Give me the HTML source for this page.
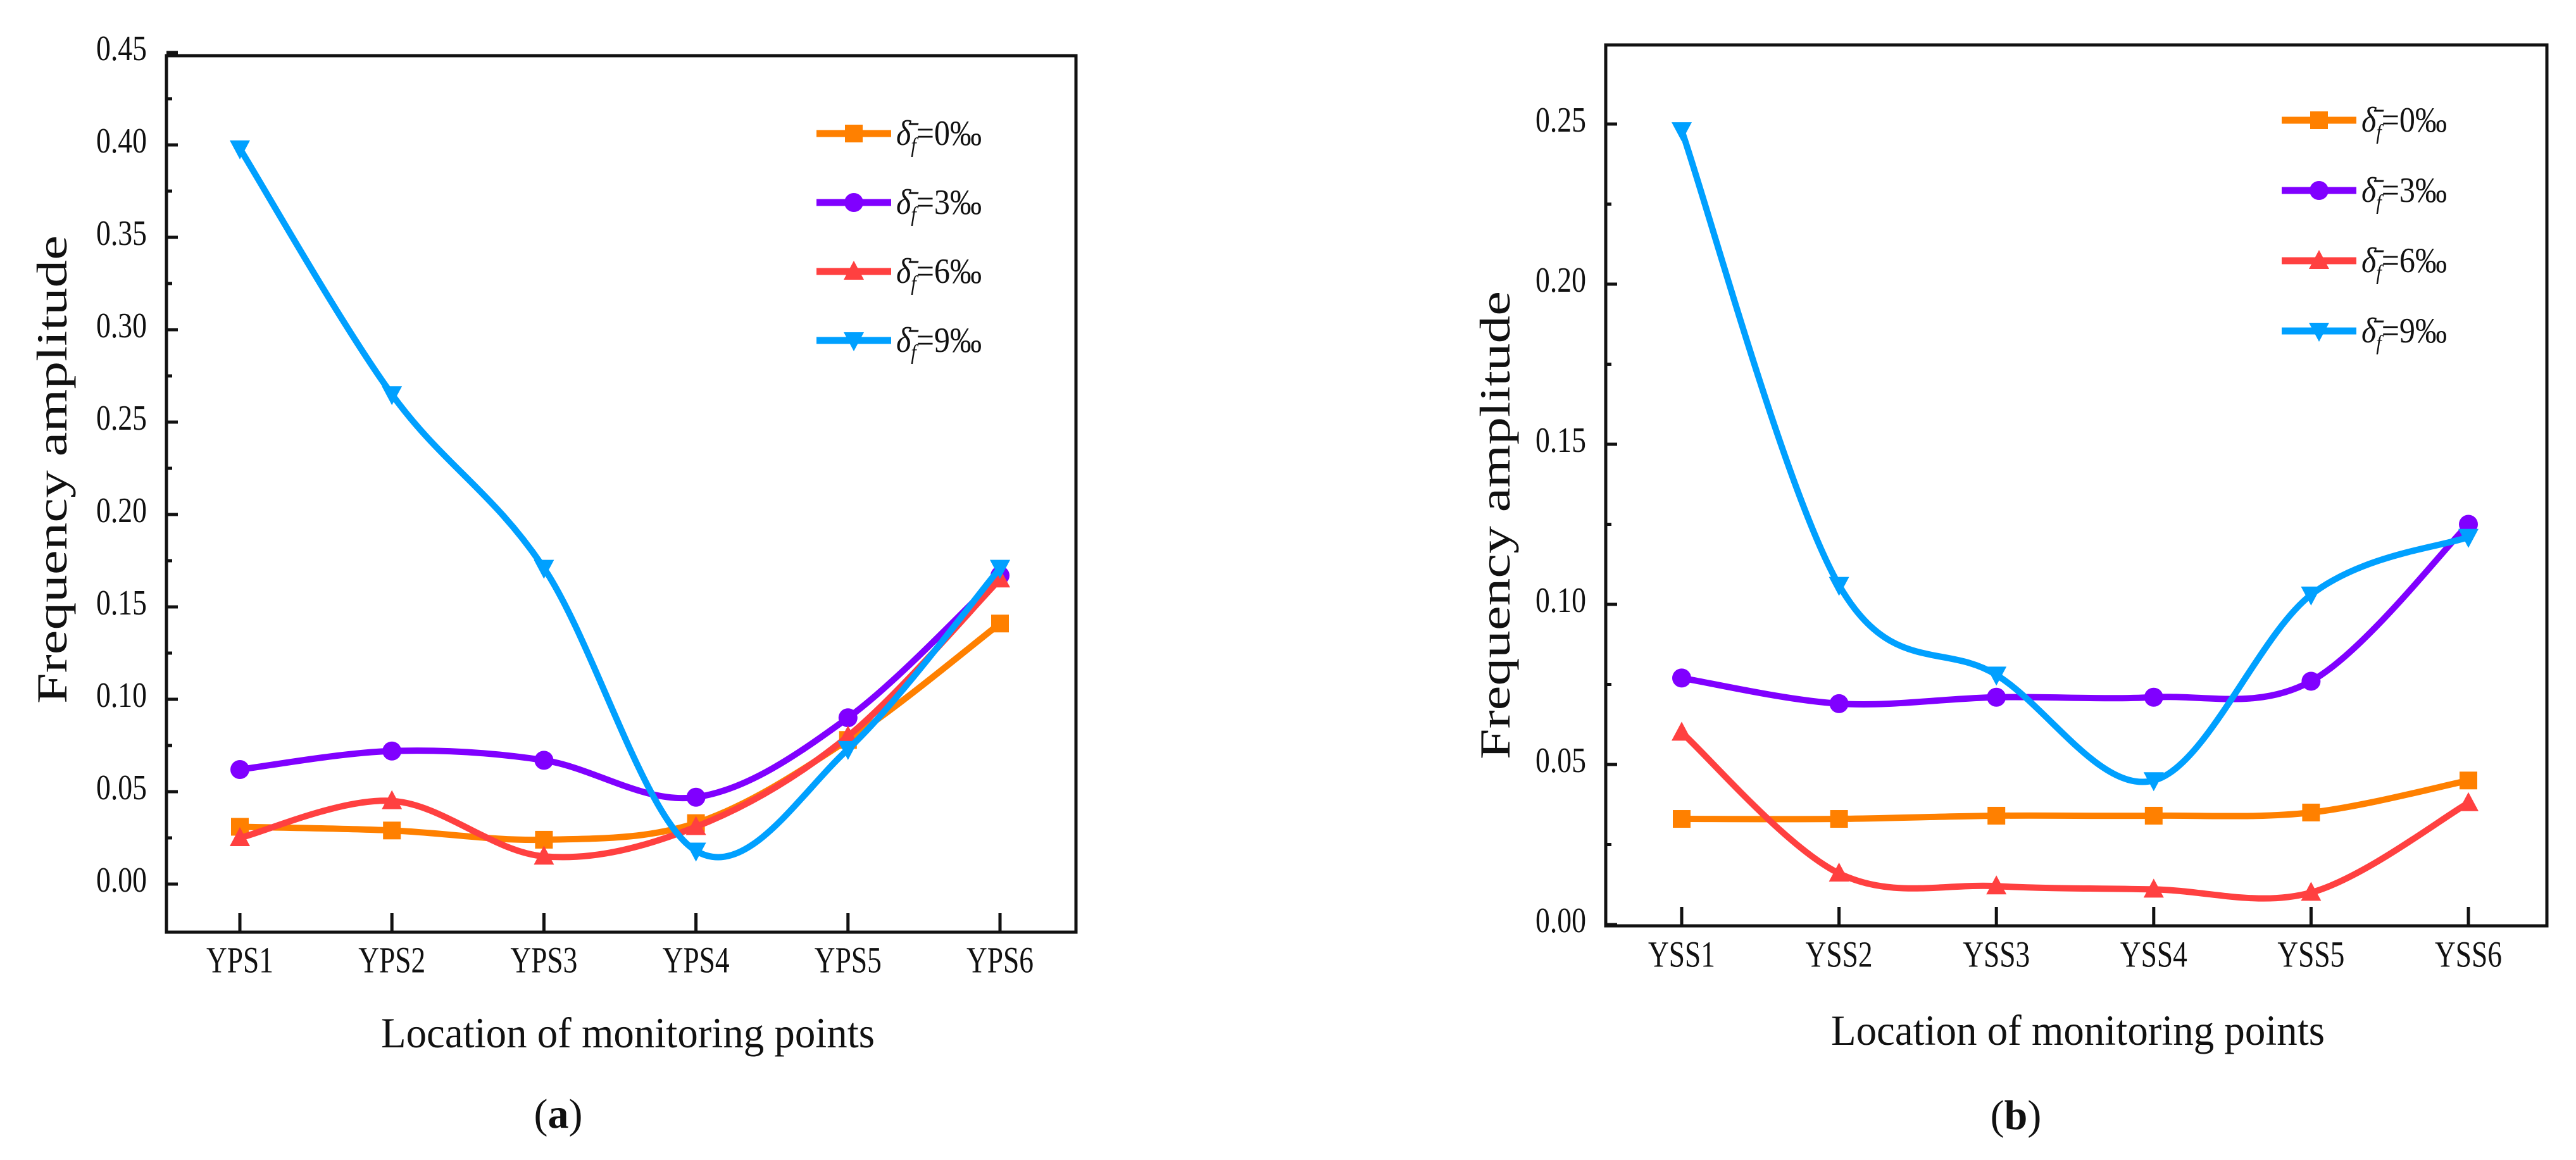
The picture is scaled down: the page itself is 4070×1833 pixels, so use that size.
<!DOCTYPE html>
<html><head><meta charset="utf-8">
<style>
html,body{margin:0;padding:0;background:#fff;}
svg{display:block;}
text{font-family:"Liberation Serif",serif;fill:#111;}
</style></head>
<body>
<svg id="fig" width="4070" height="1833" viewBox="0 0 4070 1833" xmlns="http://www.w3.org/2000/svg"></svg>
<script>
// ---- Data: panel (a)
const catsA = ["YPS1","YPS2","YPS3","YPS4","YPS5","YPS6"];
const yTicksA = ["0.00","0.05","0.10","0.15","0.20","0.25","0.30","0.35","0.40","0.45"];
const a0 = [0.031,0.029,0.024,0.033,0.078,0.141];
const a3 = [0.062,0.072,0.067,0.047,0.090,0.167];
const a6 = [0.025,0.045,0.015,0.031,0.080,0.165];
const a9 = [0.398,0.265,0.171,0.018,0.073,0.171];
// ---- Data: panel (b)
const catsB = ["YSS1","YSS2","YSS3","YSS4","YSS5","YSS6"];
const yTicksB = ["0.00","0.05","0.10","0.15","0.20","0.25"];
const b0 = [0.033,0.033,0.034,0.034,0.035,0.045];
const b3 = [0.077,0.069,0.071,0.071,0.076,0.125];
const b6 = [0.060,0.016,0.012,0.011,0.010,0.038];
const b9 = [0.248,0.106,0.078,0.045,0.103,0.121];
const legendLabels = ["0‰","3‰","6‰","9‰"];

const NS="http://www.w3.org/2000/svg";
const svg=document.getElementById('fig');
function mk(tag,parent){const e=document.createElementNS(NS,tag);(parent||svg).appendChild(e);return e;}

const colors=["#ff8000","#8000ff","#ff4040","#00a0ff"];
const markers=["square","circle","up","down"];

function marker(g,type,x,y,color){
  let m;
  if(type==="square"){m=mk('rect',g);m.setAttribute('x',x-14);m.setAttribute('y',y-14);m.setAttribute('width',28);m.setAttribute('height',28);}
  else if(type==="circle"){m=mk('circle',g);m.setAttribute('cx',x);m.setAttribute('cy',y);m.setAttribute('r',15);}
  else if(type==="up"){m=mk('polygon',g);m.setAttribute('points',`${x},${y-17} ${x+16},${y+13} ${x-16},${y+13}`);}
  else {m=mk('polygon',g);m.setAttribute('points',`${x-16},${y-13} ${x+16},${y-13} ${x},${y+17}`);}
  m.setAttribute('fill',color);
  
  
}

function smoothPath(pts){
  let d=`M${pts[0][0]},${pts[0][1]}`;
  for(let i=0;i<pts.length-1;i++){
    const p0=pts[Math.max(i-1,0)],p1=pts[i],p2=pts[i+1],p3=pts[Math.min(i+2,pts.length-1)];
    const t=6;
    const c1=[p1[0]+(p2[0]-p0[0])/t,p1[1]+(p2[1]-p0[1])/t];
    const c2=[p2[0]-(p3[0]-p1[0])/t,p2[1]-(p3[1]-p1[1])/t];
    d+=` C${c1[0]},${c1[1]} ${c2[0]},${c2[1]} ${p2[0]},${p2[1]}`;
  }
  return d;
}

function text(g,str,x,y,size,anchor,len,name){
  const t=mk('text',g);
  t.setAttribute('x',x);t.setAttribute('y',y);
  t.setAttribute('font-size',size);
  t.setAttribute('text-anchor',anchor||'middle');
  t.setAttribute('dominant-baseline','central');
  if(len){t.setAttribute('textLength',len);t.setAttribute('lengthAdjust','spacingAndGlyphs');}
  t.textContent=str;
  
  
  return t;
}

function panel(cfg){
  const g=mk('g');
  
  
  const yMax=(cfg.yTicks.length-1)*0.05;
  const ys=v=>cfg.y0-(v/yMax)*(cfg.y0-cfg.yTop);
  const xs=i=>cfg.x1+i*(cfg.x6-cfg.x1)/(cfg.cats.length-1);
  // box
  const box=mk('rect',g);
  box.setAttribute('x',cfg.L);box.setAttribute('y',cfg.T);
  box.setAttribute('width',cfg.R-cfg.L);box.setAttribute('height',cfg.B-cfg.T);
  box.setAttribute('fill','none');box.setAttribute('stroke','#111');box.setAttribute('stroke-width',5);
  
  
  // y ticks
  cfg.yTicks.forEach((lab,i)=>{
    const v=i*0.05,y=ys(v);
    const tk=mk('line',g);
    tk.setAttribute('x1',cfg.L);tk.setAttribute('x2',cfg.L+18);tk.setAttribute('y1',y);tk.setAttribute('y2',y);
    tk.setAttribute('stroke','#111');tk.setAttribute('stroke-width',5);
    
    
    if(i<cfg.yTicks.length-1){
      const ym=ys(v+0.025);
      const mt=mk('line',g);
      mt.setAttribute('x1',cfg.L);mt.setAttribute('x2',cfg.L+9);mt.setAttribute('y1',ym);mt.setAttribute('y2',ym);
      mt.setAttribute('stroke','#111');mt.setAttribute('stroke-width',5);
      
      
    }
    text(g,lab,cfg.yLabR,y-6,56,'end',80,'y-tick-label');
  });
  // x ticks
  cfg.cats.forEach((c,i)=>{
    const x=xs(i);
    const tk=mk('line',g);
    tk.setAttribute('x1',x);tk.setAttribute('x2',x);tk.setAttribute('y1',cfg.B);tk.setAttribute('y2',cfg.B-30);
    tk.setAttribute('stroke','#111');tk.setAttribute('stroke-width',5);
    
    
    text(g,c,x,cfg.xLabY,58,'middle',106,'x-tick-label');
  });
  // series
  cfg.series.forEach((vals,s)=>{
    const sg=mk('g',g);
    
    
    const pts=vals.map((v,i)=>[xs(i),ys(v)]);
    const p=mk('path',sg);
    p.setAttribute('d',smoothPath(pts));
    p.setAttribute('fill','none');p.setAttribute('stroke',colors[s]);p.setAttribute('stroke-width',10);
    
    
    pts.forEach(pt=>marker(sg,markers[s],pt[0],pt[1],colors[s]));
  });
  // legend
  const lg=mk('g',g);
  
  
  legendLabels.forEach((lab,s)=>{
    const y=cfg.legY+s*cfg.legDy;
    const eg=mk('g',lg);
    
    
    const l=mk('line',eg);
    l.setAttribute('x1',cfg.legX);l.setAttribute('x2',cfg.legX+118);l.setAttribute('y1',y);l.setAttribute('y2',y);
    l.setAttribute('stroke',colors[s]);l.setAttribute('stroke-width',11);
    
    
    marker(eg,markers[s],cfg.legX+59,y,colors[s]);
    const t=mk('text',eg);
    t.setAttribute('x',cfg.legX+126);t.setAttribute('y',y+18);t.setAttribute('font-size',56);
    t.setAttribute('textLength',135);t.setAttribute('lengthAdjust','spacingAndGlyphs');
    
    
    const t1=mk('tspan',t);t1.setAttribute('font-style','italic');t1.textContent='δ̄';
    const t2=mk('tspan',t);t2.setAttribute('font-size',34);t2.setAttribute('font-style','italic');t2.setAttribute('dy',12);t2.textContent='f';
    const t3=mk('tspan',t);t3.setAttribute('dy',-12);t3.textContent='='+lab;
  });
  // axis titles
  const yt=text(g,'Frequency amplitude',0,0,68,'middle',740,'y-axis-title');
  yt.setAttribute('transform',`translate(${cfg.yTitleX},${cfg.yTitleY}) rotate(-90)`);
  text(g,'Location of monitoring points',cfg.xTitleX,cfg.xTitleY,68,'middle',780,'x-axis-title');
  const pl=mk('text',g);
  pl.setAttribute('x',cfg.xPanelX);pl.setAttribute('y',cfg.panelY);pl.setAttribute('font-size',66);
  pl.setAttribute('text-anchor','middle');pl.setAttribute('dominant-baseline','central');
  
  
  const p1=mk('tspan',pl);p1.textContent='(';
  const p2=mk('tspan',pl);p2.setAttribute('font-weight','bold');p2.textContent=cfg.panel;
  const p3=mk('tspan',pl);p3.textContent=')';
}

panel({name:'chart-a',cats:catsA,yTicks:yTicksA,series:[a0,a3,a6,a9],
  L:263,R:1700,T:88,B:1473,y0:1397,yTop:83,x1:379,x6:1580,yLabR:232,xLabY:1517,
  legX:1290,legY:211,legDy:109,yTitleX:82,yTitleY:742,xTitleX:992,xTitleY:1632,xPanelX:882,panelY:1760,panel:'a'});
panel({name:'chart-b',cats:catsB,yTicks:yTicksB,series:[b0,b3,b6,b9],
  L:2537,R:4024,T:71,B:1463,y0:1461,yTop:196,x1:2657,x6:3900,yLabR:2506,xLabY:1508,
  legX:3605,legY:190,legDy:111,yTitleX:2362,yTitleY:830,xTitleX:3283,xTitleY:1628,xPanelX:3185,panelY:1762,panel:'b'});
</script>
</body></html>
